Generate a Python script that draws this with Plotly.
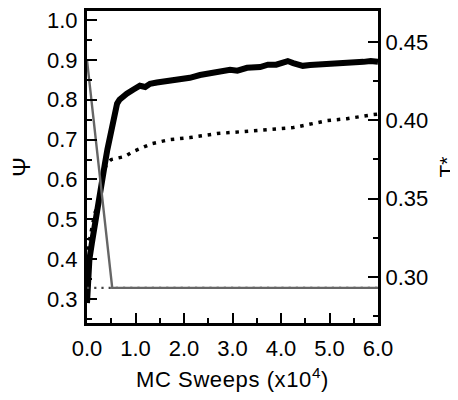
import plotly.graph_objects as go

# Psi, slow annealing run (solid)
sweeps_anneal = [0.0, 0.02, 0.05, 0.10, 0.16, 0.22, 0.27, 0.32, 0.37, 0.42, 0.47, 0.50, 0.54, 0.58,
                 0.62, 0.67, 0.74, 0.82, 0.95, 1.09, 1.2, 1.3, 1.44, 1.6, 1.75, 1.9, 2.12, 2.33, 2.5,
                 2.7, 2.95, 3.1, 3.3, 3.57, 3.73, 3.9, 4.05, 4.14, 4.25, 4.45, 4.6, 4.8, 5.0, 5.28,
                 5.5, 5.7, 5.85, 6.0]
psi_anneal = [0.29, 0.36, 0.40, 0.44, 0.49, 0.53, 0.575, 0.61, 0.64, 0.675, 0.705, 0.73, 0.755, 0.775,
              0.79, 0.80, 0.808, 0.815, 0.825, 0.835, 0.832, 0.84, 0.843, 0.845, 0.848, 0.852, 0.855,
              0.862, 0.866, 0.87, 0.875, 0.873, 0.88, 0.882, 0.888, 0.888, 0.893, 0.897, 0.892, 0.885,
              0.887, 0.888, 0.889, 0.891, 0.891, 0.895, 0.897, 0.895]

# Psi, quench run (dotted)
sweeps_quench = [0.0, 0.04, 0.16, 0.27, 0.33, 0.41, 0.5, 0.58, 0.78, 0.95, 1.15, 1.34, 1.71, 2.12,
                 2.68, 3.22, 3.63, 4.25, 4.95, 5.36, 5.9, 6.0]
psi_quench = [0.33, 0.44, 0.515, 0.5475, 0.615, 0.64, 0.65, 0.6525, 0.6575, 0.67, 0.68, 0.69, 0.70,
              0.705, 0.715, 0.72, 0.724, 0.73, 0.7475, 0.7525, 0.7625, 0.764]

# Temperature schedules (right axis)
sweeps_temp_anneal = [0.0, 0.52, 6.0]
temp_anneal = [0.4385, 0.293, 0.293]
sweeps_temp_quench = [0.0, 6.0]
temp_quench = [0.293, 0.293]

x_tickvals = [0, 1, 2, 3, 4, 5, 6]
x_ticktext = ["0.0", "1.0", "2.0", "3.0", "4.0", "5.0", "6.0"]
psi_tickvals = [0.3, 0.4, 0.5, 0.6, 0.7, 0.8, 0.9, 1.0]
psi_ticktext = ["0.3", "0.4", "0.5", "0.6", "0.7", "0.8", "0.9", "1.0"]
t_tickvals = [0.30, 0.35, 0.40, 0.45]
t_ticktext = ["0.30", "0.35", "0.40", "0.45"]

FONT = "Arial, Liberation Sans, sans-serif"

fig = go.Figure()
fig.add_trace(go.Scatter(x=sweeps_temp_quench, y=temp_quench, yaxis="y2", mode="lines",
                         line=dict(color="#444444", width=2.2, dash="2.2px,5px"), showlegend=False))
fig.add_trace(go.Scatter(x=sweeps_temp_anneal, y=temp_anneal, yaxis="y2", mode="lines",
                         line=dict(color="#666666", width=2.4), showlegend=False))
fig.add_trace(go.Scatter(x=sweeps_quench, y=psi_quench, mode="lines",
                         line=dict(color="black", width=3.5, dash="3.5px,5.8px"), showlegend=False))
fig.add_trace(go.Scatter(x=sweeps_anneal, y=psi_anneal, mode="lines",
                         line=dict(color="black", width=6), showlegend=False))

axis_common = dict(showline=True, linecolor="black", linewidth=3, ticks="inside",
                   tickcolor="black", tickwidth=2, ticklen=10, showgrid=False, zeroline=False,
                   automargin=False, ticklabeloverflow="allow",
                   tickfont=dict(family=FONT, size=22, color="black"))
minor_common = dict(ticks="inside", ticklen=5, tickwidth=1.5, tickcolor="black")

fig.update_layout(
    width=450, height=392,
    margin=dict(l=79, r=80, t=3, b=77),
    paper_bgcolor="white", plot_bgcolor="white",
    xaxis=dict(range=[0, 6], tickvals=x_tickvals, ticktext=x_ticktext, mirror=True,
               ticklabelstandoff=4,
               minor=dict(dtick=0.5, **minor_common),
               title=dict(text='<span style="letter-spacing:0.6px">MC Sweeps (x10<sup>4</sup>)</span>',
                          font=dict(family=FONT, size=22, color="black"), standoff=12),
               **axis_common),
    yaxis=dict(range=[0.2398, 1.0226], tickvals=psi_tickvals, ticktext=psi_ticktext,
               ticklabelstandoff=2,
               minor=dict(tick0=0.25, dtick=0.05, **minor_common),
               title=dict(text="Ψ", font=dict(family=FONT, size=24, color="black"), standoff=14),
               **axis_common),
    yaxis2=dict(range=[0.2706, 0.4698], overlaying="y", side="right",
                tickvals=t_tickvals, ticktext=t_ticktext,
                minor=dict(tick0=0.275, dtick=0.025, **minor_common),
                title=dict(text="T*", font=dict(family=FONT, size=21, color="black"), standoff=13),
                **axis_common),
)

fig.write_html("out.html")
